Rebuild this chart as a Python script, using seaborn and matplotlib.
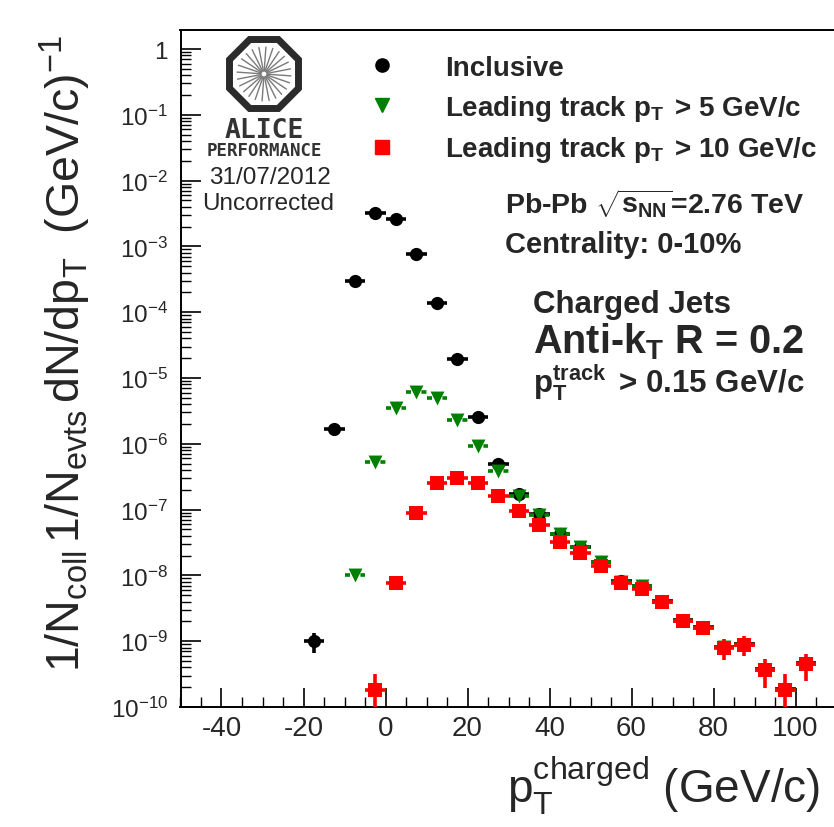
import numpy as np
import pandas as pd
import matplotlib
matplotlib.use("Agg")
import matplotlib.pyplot as plt
import seaborn as sns
from matplotlib.lines import Line2D
from matplotlib.ticker import MultipleLocator, LogLocator, FuncFormatter, NullFormatter
from matplotlib.patches import Polygon

# ---------------- data ----------------
BIN_HALF_WIDTH = 2.5

incl_x = [-17.5, -12.5, -7.5, -2.5, 2.5, 7.5, 12.5, 17.5, 22.5, 27.5, 32.5, 37.5,
          42.5, 47.5, 52.5, 57.5, 62.5, 67.5, 72.5, 77.5, 82.5, 87.5, 92.5, 97.5, 102.5]
incl_y = [1.0e-9, 1.7e-6, 3.0e-4, 3.25e-3, 2.6e-3, 7.6e-4, 1.4e-4, 1.95e-5, 2.6e-6,
          5.0e-7, 1.7e-7, 8.5e-8, 4.3e-8, 2.7e-8, 1.6e-8, 8.2e-9, 7.0e-9, 4.1e-9,
          2.1e-9, 1.65e-9, 8.2e-10, 9.0e-10, 3.8e-10, 1.9e-10, 4.6e-10]
incl_yerr = [0.33e-9, 0, 0, 0, 0, 0, 0, 0, 0, 0, 0, 0, 0, 0, 0, 0, 0, 0,
             0, 0, 0, 0, 0, 0, 0]

lt5_x = [-7.5, -2.5, 2.5, 7.5, 12.5, 17.5, 22.5, 27.5, 32.5, 37.5, 42.5, 47.5,
         52.5, 57.5, 62.5, 67.5, 72.5, 77.5, 82.5, 87.5, 92.5, 97.5, 102.5]
lt5_y = [1.0e-8, 5.3e-7, 3.5e-6, 6.2e-6, 4.9e-6, 2.3e-6, 9.4e-7, 3.8e-7, 1.6e-7,
         8.3e-8, 4.2e-8, 2.7e-8, 1.6e-8, 8.0e-9, 7.0e-9, 4.0e-9, 2.05e-9, 1.6e-9,
         8.1e-10, 8.9e-10, 3.7e-10, 1.8e-10, 4.5e-10]

lt10_x = [-2.5, 2.5, 7.5, 12.5, 17.5, 22.5, 27.5, 32.5, 37.5, 42.5, 47.5, 52.5,
          57.5, 62.5, 67.5, 72.5, 77.5, 82.5, 87.5, 92.5, 97.5, 102.5]
lt10_y = [1.8e-10, 7.8e-9, 8.9e-8, 2.5e-7, 3.0e-7, 2.5e-7, 1.6e-7, 9.4e-8, 5.9e-8,
          3.2e-8, 2.2e-8, 1.4e-8, 7.8e-9, 6.3e-9, 3.9e-9, 2.0e-9, 1.6e-9, 8.0e-10,
          8.9e-10, 3.7e-10, 1.8e-10, 4.5e-10]
lt10_yerr = [1.35e-10, 0, 0, 0, 0, 0, 0, 0, 0, 0, 0, 0, 0, 0, 0, 1.2e-10, 2.0e-10,
             2.8e-10, 2.9e-10, 1.75e-10, 1.4e-10, 2.0e-10]

labels = ["Inclusive",
          r"Leading track $\mathbf{p}_{\mathbf{T}}\,$ > 5 GeV/c",
          r"Leading track $\mathbf{p}_{\mathbf{T}}\,$ > 10 GeV/c"]
colors = ["black", "#008000", "#ff0000"]
markers = ["o", "v", "s"]

x_ticks_major = 20
x_ticks_minor = 5

# ---------------- style ----------------
sns.set_theme(style="ticks")
plt.rcParams.update({
    "font.family": ["Liberation Sans", "DejaVu Sans"],
    "mathtext.fontset": "custom",
    "mathtext.rm": "Liberation Sans",
    "mathtext.bf": "Liberation Sans:bold",
    "mathtext.it": "Liberation Sans:italic",
    "mathtext.sf": "Liberation Sans",
    "axes.unicode_minus": False,
    "lines.scale_dashes": False,
})

W, H = 834, 828
fig = plt.figure(figsize=(W / 100, H / 100), dpi=100)

def fx(p):
    return p / W

def fy(p):
    return 1 - p / H

PX_PER_UNIT = 4.1
left_px, top_px, bot_px = 180.5, 31, 708
xmin, xmax = -50, 110
ax = fig.add_axes([fx(left_px), fy(bot_px), (xmax - xmin) * PX_PER_UNIT / W,
                   (bot_px - top_px) / H])
ax.set_yscale("log")
ax.set_xlim(xmin, xmax)
ax.set_ylim(1e-10, 1.95)

# ---------------- data drawing ----------------
frames = []
for lab, xs, ys in zip(labels, [incl_x, lt5_x, lt10_x], [incl_y, lt5_y, lt10_y]):
    frames.append(pd.DataFrame({"pt": xs, "val": ys, "series": lab}))
df = pd.concat(frames, ignore_index=True)

yerrs = [incl_yerr, None, lt10_yerr]
msizes = [9.5, 10, 10]
for i, (lab, col, mk, ms, ye) in enumerate(zip(labels, colors, markers, msizes, yerrs)):
    sub = df[df["series"] == lab]
    z = 3 + i
    eb = ax.errorbar(sub["pt"], sub["val"], xerr=BIN_HALF_WIDTH,
                     yerr=None if ye is None else np.array(ye),
                     fmt="none", ecolor=col, elinewidth=2.6, capsize=0, zorder=z)
    if i == 1:
        eb.lines[2][0].set_linestyle((0, (3.6, 7.5)))
    sns.scatterplot(data=sub, x="pt", y="val", marker=mk, s=ms ** 2, color=col,
                    linewidth=0, ax=ax, zorder=z + 0.5, legend=False)

# ---------------- axes styling ----------------
for s in ["top", "left", "bottom"]:
    ax.spines[s].set_linewidth(1.4)
    ax.spines[s].set_color("black")
ax.spines["right"].set_visible(False)

ax.xaxis.set_major_locator(MultipleLocator(x_ticks_major))
ax.xaxis.set_minor_locator(MultipleLocator(x_ticks_minor))
ax.yaxis.set_major_locator(LogLocator(base=10, numticks=30))
ax.yaxis.set_minor_locator(LogLocator(base=10, subs=np.arange(2, 10), numticks=30))
ax.yaxis.set_minor_formatter(NullFormatter())

def yfmt(v, _):
    e = int(round(np.log10(v)))
    return "1" if e == 0 else r"$10^{%d}$" % e

ax.yaxis.set_major_formatter(FuncFormatter(yfmt))
ax.xaxis.set_major_formatter(FuncFormatter(lambda v, _: "%d" % v))

ax.tick_params(axis="both", which="both", direction="in", color="black",
               top=False, right=False)
ax.tick_params(axis="y", which="major", length=14.4, width=1.2, labelsize=17.5, pad=9)
ax.tick_params(axis="y", which="minor", length=7.2, width=1.0)
ax.tick_params(axis="x", which="major", length=13.5, width=1.2, labelsize=20, pad=6)
ax.tick_params(axis="x", which="minor", length=7.0, width=1.0)
ax.set_xlabel("")
ax.set_ylabel("")
ax.grid(False)

# axis titles
fig.text(fx(80), fy(35),
         r"1/N$_{\mathrm{coll}}\,$1/N$_{\mathrm{evts}}\,$dN/dp$_{\mathrm{T}}\;$ (GeV/c)$^{-1}$",
         rotation=90, rotation_mode="anchor", ha="right", va="baseline", fontsize=33.5)
fig.text(fx(507), fy(803),
         r"$\mathrm{p}_{\mathrm{T}}^{\mathrm{charged}}$ (GeV/c)",
         ha="left", va="baseline", fontsize=33)

# legend
handles = [Line2D([], [], marker=m, color=c, ls="none", markersize=s)
           for m, c, s in zip(markers, colors, msizes)]
leg = ax.legend(handles, labels, loc="upper left",
                bbox_to_anchor=(fx(354.2), fy(56)), bbox_transform=fig.transFigure,
                frameon=False, prop={"weight": "bold", "size": 20},
                handlelength=2.0, handletextpad=1.27, labelspacing=0.42,
                borderpad=0, borderaxespad=0)

# annotation texts
fig.text(fx(505), fy(213), r"Pb-Pb $\sqrt{\mathbf{s}_{\mathbf{NN}}}$=2.76 TeV",
         fontsize=20.5, fontweight="bold", va="baseline")
fig.text(fx(505), fy(253), "Centrality: 0-10%", fontsize=21, fontweight="bold",
         va="baseline")
fig.text(fx(533), fy(313), "Charged Jets", fontsize=22.5, fontweight="bold", va="baseline")
fig.text(fx(533), fy(353), r"Anti-k$_{\mathbf{T}}$ R = 0.2", fontsize=28.5,
         fontweight="bold", va="baseline")
fig.text(fx(533), fy(393), r"$\mathbf{p}_{\mathbf{T}}^{\mathbf{track}}\,$ > 0.15 GeV/c",
         fontsize=22.5, fontweight="bold", va="baseline")

# ALICE performance logo (overlay in pixel coordinates)
ov = fig.add_axes([0, 0, 1, 1], facecolor="none")
ov.set_xlim(0, W)
ov.set_ylim(H, 0)
ov.axis("off")
cx, cy = 264, 75
r_oct = 34.5 / np.cos(np.pi / 8)
ang = np.pi / 8 + np.arange(8) * np.pi / 4
ov.add_patch(Polygon(np.c_[cx + r_oct * np.cos(ang), cy + r_oct * np.sin(ang)],
                     closed=True, fill=False, edgecolor="#2b2b2b", linewidth=5.0,
                     joinstyle="miter"))
for a in np.arange(24) * (2 * np.pi / 24) + 0.07:
    ov.plot([cx + 3 * np.cos(a), cx + 27 * np.cos(a)],
            [cy + 3 * np.sin(a), cy + 27 * np.sin(a)], color="#7a7a7a", lw=1.0)
ov.text(cx, 138, "ALICE", ha="center", va="baseline", fontsize=19,
        family="DejaVu Sans Mono", color="#333333", fontweight="bold")
ov.text(cx, 156, "PERFORMANCE", ha="center", va="baseline", fontsize=12.5,
        family="DejaVu Sans Mono", color="#333333", fontweight="bold")
ov.text(270, 184, "31/07/2012", ha="center", va="baseline", fontsize=17.5)
ov.text(268, 210, "Uncorrected", ha="center", va="baseline", fontsize=17.5)

fig.savefig("out.png", dpi=100)
